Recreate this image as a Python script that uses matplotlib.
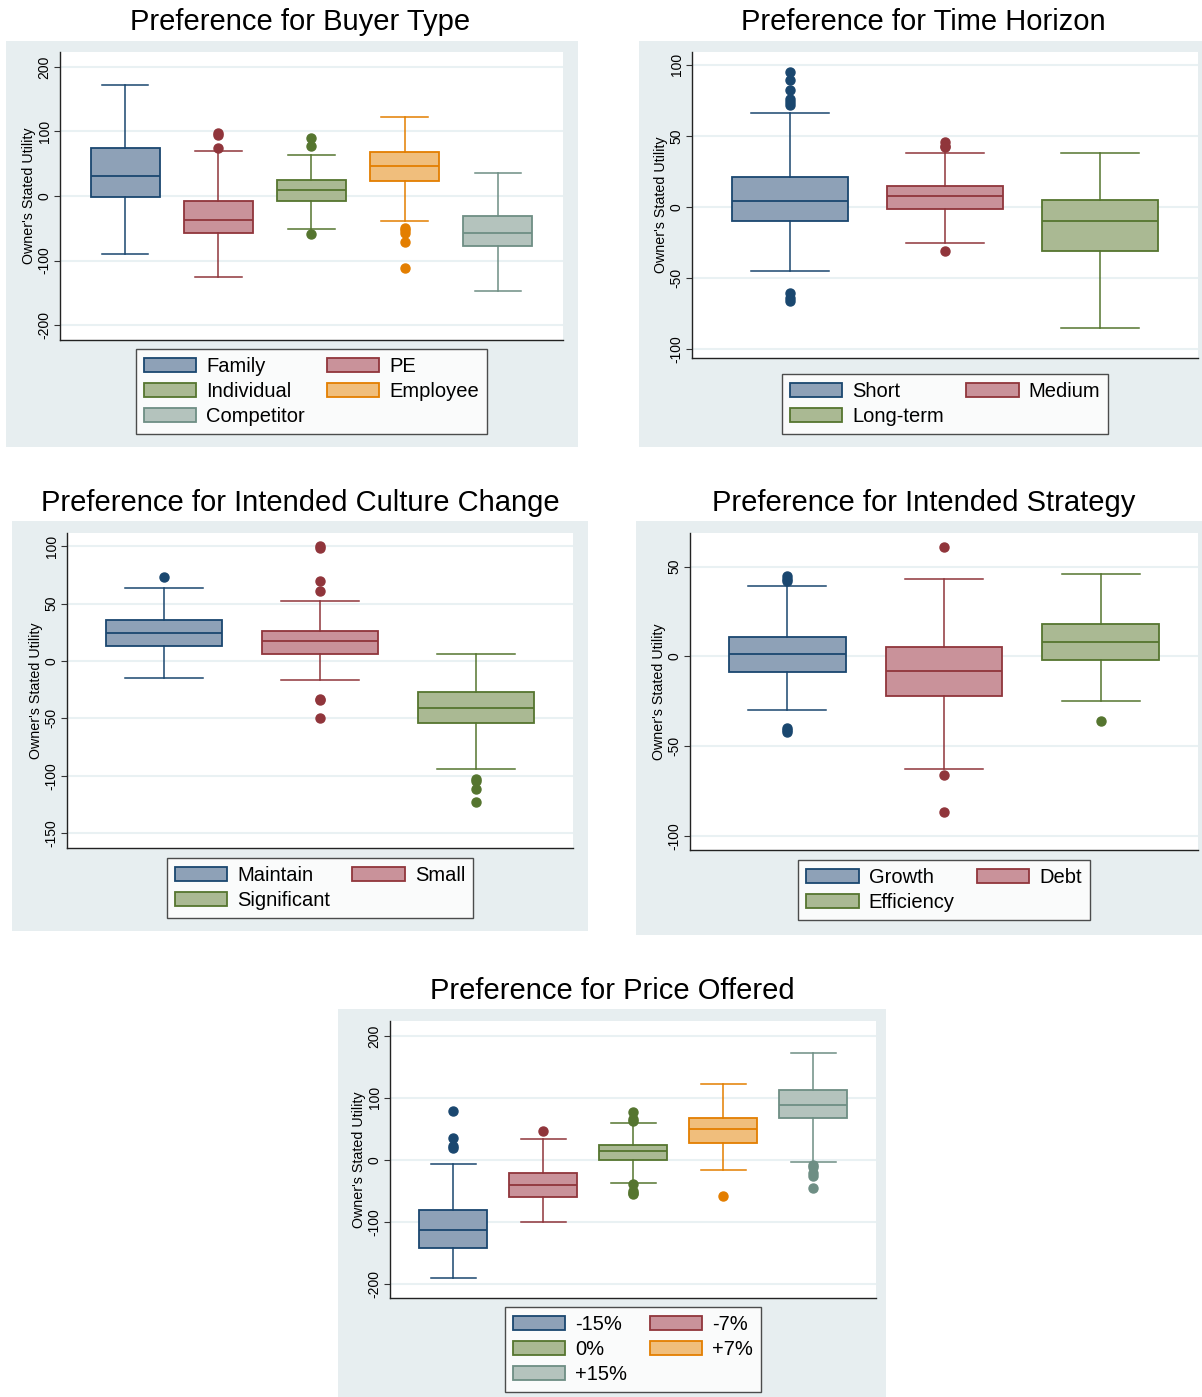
import matplotlib
matplotlib.use("Agg")
import matplotlib.pyplot as plt
from matplotlib.patches import Patch, Rectangle

plt.rcParams["font.family"] = ["Liberation Sans", "DejaVu Sans"]

W, H = 1202, 1397

# (fill, edge) colour pairs
blue = ("#8EA1B7", "#1A476F")
red = ("#C9929A", "#90353B")
green = ("#AAB993", "#55752F")
orange = ("#F0BE7C", "#E37E00")
teal = ("#B4C3BD", "#6E8E84")
panel_bg = "#E7EEF0"
grid_col = "#E9F1F3"

# Buyer type
buyer_labels = ["Family", "PE", "Individual", "Employee", "Competitor"]
buyer_lo = [-90, -125, -51, -38, -147]
buyer_q1 = [-1, -58, -7, 23, -77]
buyer_med = [31, -37, 9, 47, -57]
buyer_q3 = [74, -7, 25, 68, -31]
buyer_hi = [172, 70, 63, 122, 36]
buyer_out = [[], [97, 95, 74], [90, 78, -59], [-50, -53, -57, -71, -112], []]

# Time horizon
time_labels = ["Short", "Medium", "Long-term"]
time_lo = [-45, -25, -85]
time_q1 = [-10, -1, -31]
time_med = [4, 8, -10]
time_q3 = [21, 15, 5]
time_hi = [66, 38, 38]
time_out = [[95, 89, 82, 76, 74, 72, -60, -64, -66], [46, 43, 42, -31], []]

# Intended culture change
culture_labels = ["Maintain", "Small", "Significant"]
culture_lo = [-15, -17, -94]
culture_q1 = [13, 6, -54]
culture_med = [24, 17, -41]
culture_q3 = [36, 26, -27]
culture_hi = [64, 52, 6]
culture_out = [[73], [100, 98, 70, 61, -33, -34, -50], [-103, -105, -112, -123]]

# Intended strategy
strategy_labels = ["Growth", "Debt", "Efficiency"]
strategy_lo = [-30, -63, -25]
strategy_q1 = [-9, -22, -2]
strategy_med = [1, -8, 8]
strategy_q3 = [10.5, 5, 18]
strategy_hi = [39, 43, 46]
strategy_out = [[45, 43, 42, -40, -41, -42], [61, -66, -87], [-36]]

# Price offered
price_labels = ["-15%", "-7%", "0%", "+7%", "+15%"]
price_lo = [-191, -101, -37, -16, -4]
price_q1 = [-142, -60, 0, 27, 67]
price_med = [-113, -41, 15, 50, 89]
price_q3 = [-81, -22, 24, 68, 112]
price_hi = [-7, 34, 60, 122, 172]
price_out = [[79, 36, 22, 19], [47], [77, 66, 63, -39, -50, -53, -55], [-59],
             [-9, -12, -22, -26, -45]]

five_cols = [blue, red, green, orange, teal]
three_cols = [blue, red, green]

fig = plt.figure(figsize=(W / 100, H / 100), dpi=100)
fig.patch.set_facecolor("white")


def frac(x0, y0, x1, y1):
    return [x0 / W, 1 - y1 / H, (x1 - x0) / W, (y1 - y0) / H]


def panel(bg, axbox, title, title_xy, labels, lo, q1, med, q3, hi, out,
          colors, yticks, ylim, margin, legend_top):
    fig.add_artist(Rectangle((bg[0] / W, 1 - bg[3] / H), (bg[2] - bg[0]) / W,
                             (bg[3] - bg[1]) / H, transform=fig.transFigure,
                             facecolor=panel_bg, edgecolor="none", zorder=-1))
    fig.text(title_xy[0] / W, 1 - title_xy[1] / H, title, ha="center",
             va="center", fontsize=21)
    ax = fig.add_axes(frac(*axbox))
    n = len(labels)
    stats = [dict(whislo=lo[i], q1=q1[i], med=med[i], q3=q3[i],
                  whishi=hi[i], fliers=out[i]) for i in range(n)]
    pos = list(range(1, n + 1))
    art = ax.bxp(stats, positions=pos, widths=0.745, capwidths=0.5,
                 patch_artist=True, showfliers=True)
    for i, (fc, ec) in enumerate(colors):
        art["boxes"][i].set(facecolor=fc, edgecolor=ec, linewidth=1.3)
        art["medians"][i].set(color=ec, linewidth=1.3)
        for ln in art["whiskers"][2 * i:2 * i + 2] + art["caps"][2 * i:2 * i + 2]:
            ln.set(color=ec, linewidth=1.1)
        art["fliers"][i].set(marker="o", markersize=6.5, markerfacecolor=ec,
                             markeredgecolor=ec, linestyle="none")

    ax.set_xlim(1 - margin, n + margin)
    ax.set_ylim(*ylim)
    ax.set_yticks(yticks)
    ax.set_yticklabels([str(t) for t in yticks])
    ax.set_xticks([])
    ax.tick_params(axis="y", labelrotation=90, labelsize=10, length=4,
                   width=0.8, color="#333333", pad=2)
    for lab in ax.get_yticklabels():
        lab.set_va("center")
    ax.yaxis.grid(True, color=grid_col, linewidth=1.5)
    ax.set_axisbelow(True)
    for s in ["top", "right"]:
        ax.spines[s].set_visible(False)
    for s in ["left", "bottom"]:
        ax.spines[s].set_color("#222222")
        ax.spines[s].set_linewidth(1.0)
    ax.set_ylabel("Owner's Stated Utility", fontsize=10.3)
    ax.yaxis.set_label_coords(-31 / (axbox[2] - axbox[0]), 0.5)
    ax.yaxis.label.set_va("center")

    handles = [Patch(facecolor=fc, edgecolor=ec, linewidth=1.3) for fc, ec in colors]
    order = list(range(0, n, 2)) + list(range(1, n, 2))
    cx = (axbox[0] + axbox[2]) / 2
    leg = ax.legend([handles[k] for k in order], [labels[k] for k in order],
                    ncol=2, loc="upper center",
                    bbox_to_anchor=(cx / W, 1 - legend_top / H),
                    bbox_transform=fig.transFigure, fontsize=14.5,
                    frameon=True, fancybox=False, handlelength=2.6,
                    handleheight=0.7, handletextpad=0.5, columnspacing=1.1,
                    labelspacing=0.3, borderpad=0.4, borderaxespad=0)
    leg.get_frame().set_edgecolor("#222222")
    leg.get_frame().set_linewidth(1.0)
    return ax


panel((6, 41, 578, 447), (60, 52, 563, 340), "Preference for Buyer Type",
      (300, 22), buyer_labels, buyer_lo, buyer_q1, buyer_med, buyer_q3,
      buyer_hi, buyer_out, five_cols, [-200, -100, 0, 100, 200], (-223, 223),
      0.7, 349)

panel((639, 41, 1202, 447), (692, 52, 1198, 358), "Preference for Time Horizon",
      (923, 22), time_labels, time_lo, time_q1, time_med, time_q3, time_hi,
      time_out, three_cols, [-100, -50, 0, 50, 100], (-106, 109), 0.63, 374)

panel((12, 521, 588, 931), (67, 533, 573, 848),
      "Preference for Intended Culture Change", (300, 503), culture_labels,
      culture_lo, culture_q1, culture_med, culture_q3, culture_hi, culture_out,
      three_cols, [-150, -100, -50, 0, 50, 100], (-163, 111.5), 0.62, 858)

panel((636, 521, 1202, 935), (690, 533, 1198, 850),
      "Preference for Intended Strategy", (924, 503), strategy_labels,
      strategy_lo, strategy_q1, strategy_med, strategy_q3, strategy_hi,
      strategy_out, three_cols, [-100, -50, 0, 50], (-108, 68.7), 0.62, 860)

panel((338, 1009, 886, 1397), (390, 1021, 876, 1298),
      "Preference for Price Offered", (612, 991), price_labels, price_lo,
      price_q1, price_med, price_q3, price_hi, price_out, five_cols,
      [-200, -100, 0, 100, 200], (-223, 224), 0.7, 1307)

fig.savefig("out.png", dpi=100, facecolor="white")
